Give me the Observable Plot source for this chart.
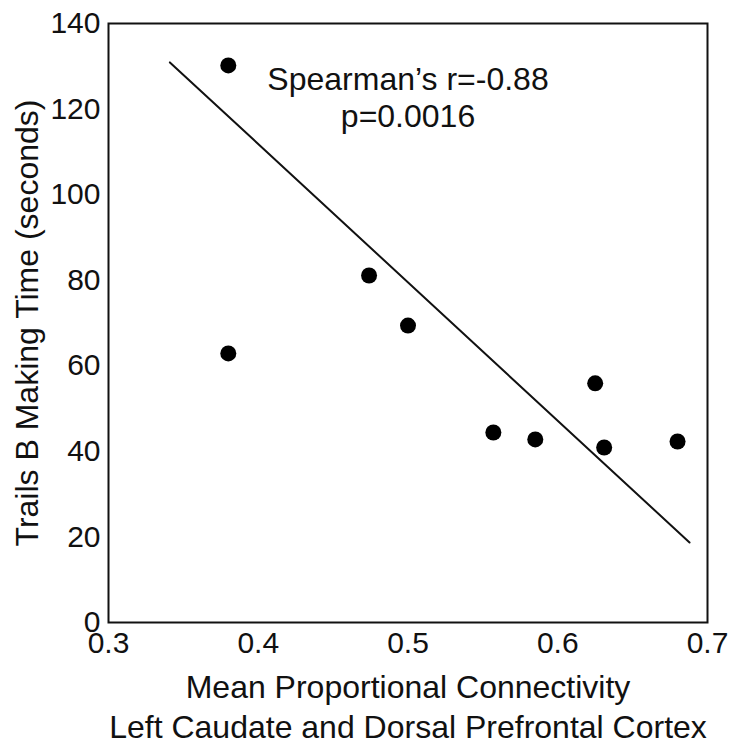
<!DOCTYPE html>
<html>
<head>
<meta charset="utf-8">
<script src="https://cdn.jsdelivr.net/npm/d3@7"></script>
<script src="https://cdn.jsdelivr.net/npm/@observablehq/plot@0.6"></script>
<style>
  html, body { margin: 0; padding: 0; background: #fff; }
  svg { display: block; }
</style>
</head>
<body>
<div id="chart"></div>
<script>
// Data
const connectivity = [0.38, 0.38, 0.474, 0.500, 0.557, 0.585, 0.625, 0.631, 0.680];
const trailsB      = [130.2, 62.9, 81.1, 69.4, 44.4, 42.8, 55.9, 40.9, 42.3];

const fitX = [0.341, 0.688];
const fitY = [130.9, 18.7];

const xTicks = [0.3, 0.4, 0.5, 0.6, 0.7];
const yTicks = [0, 20, 40, 60, 80, 100, 120, 140];

const statX = [0.5];
const statY = [123];
const statText = ["Spearman’s r=-0.88\np=0.0016"];

const xLabel = "Mean Proportional Connectivity\nLeft Caudate and Dorsal Prefrontal Cortex";
const yLabel = "Trails B Making Time (seconds)";

const points = connectivity.map((x, i) => ({x, y: trailsB[i]}));
const fit = fitX.map((x, i) => ({x, y: fitY[i]}));
const stats = statX.map((x, i) => ({x, y: statY[i], text: statText[i]}));

const font = "'Liberation Sans', Arial, Helvetica, sans-serif";

const chart = Plot.plot({
  width: 746,
  height: 747,
  marginLeft: 108,
  marginRight: 39,
  marginTop: 23,
  marginBottom: 125,
  style: {fontFamily: font, color: "#111", background: "#fff"},
  x: {domain: [0.3, 0.7]},
  y: {domain: [0, 140]},
  marks: [
    Plot.frame({stroke: "#111", strokeWidth: 2}),
    Plot.axisX({ticks: xTicks, tickSize: 0, tickPadding: 9, fontSize: 30, label: null, tickFormat: d3.format(".1f")}),
    Plot.axisY({ticks: yTicks, tickSize: 0, tickPadding: 8, fontSize: 30, label: null}),
    Plot.line(fit, {x: "x", y: "y", stroke: "#111", strokeWidth: 2}),
    Plot.dot(points, {x: "x", y: "y", r: 8, fill: "#000"}),
    Plot.text(stats, {x: "x", y: "y", text: "text", fontSize: 32, lineHeight: 1.17, fill: "#111"}),
    Plot.text([xLabel], {frameAnchor: "bottom", lineAnchor: "middle", textAnchor: "middle", dy: 83, fontSize: 32, lineHeight: 1.25, fill: "#111"}),
    Plot.text([yLabel], {frameAnchor: "left", lineAnchor: "middle", textAnchor: "middle", rotate: -90, dx: -81, fontSize: 32, fill: "#111"})
  ]
});
document.getElementById("chart").append(chart);
</script>
</body>
</html>
